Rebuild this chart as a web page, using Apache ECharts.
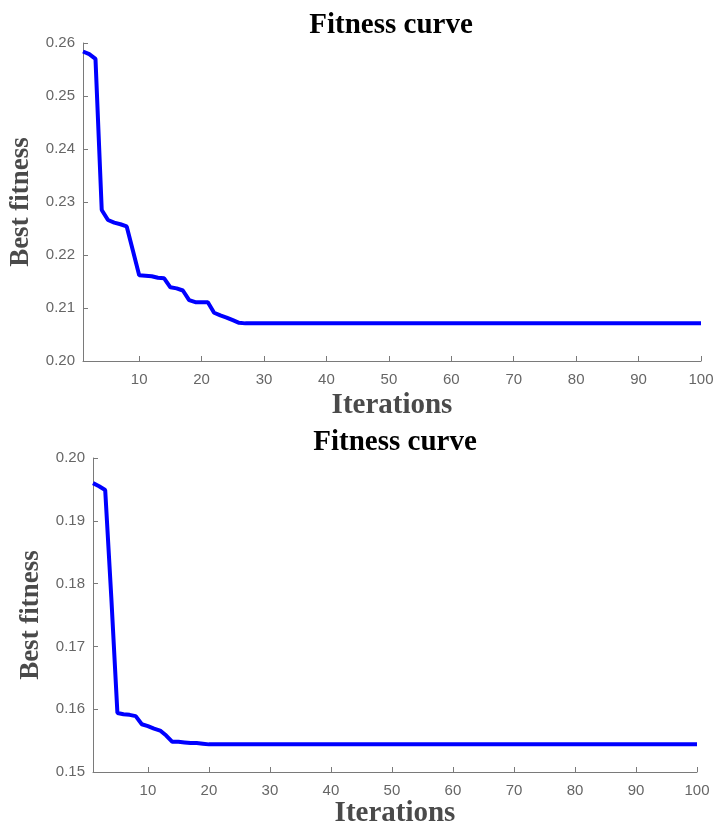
<!DOCTYPE html>
<html>
<head>
<meta charset="utf-8">
<script src="https://cdn.jsdelivr.net/npm/echarts@6/dist/echarts.min.js"></script>
<style>
html,body{margin:0;padding:0;background:#fff;}
#chart{width:713px;height:823px;}
</style>
</head>
<body>
<div id="chart"></div>
<script>
// Data
var titleText = 'Fitness curve';
var xName = 'Iterations';
var yName = 'Best fitness';
var xTickValues = [10, 20, 30, 40, 50, 60, 70, 80, 90, 100];

var fitnessTop = [
  0.2584, 0.2579, 0.2570, 0.2285, 0.2266, 0.2261, 0.2258, 0.2254, 0.2208, 0.2162,
  0.2161, 0.2160, 0.2157, 0.2156, 0.2139, 0.2137, 0.2133, 0.2115, 0.2111, 0.2111,
  0.2111, 0.2091, 0.2086, 0.2082, 0.2077, 0.2072, 0.2071, 0.2071, 0.2071, 0.2071,
  0.2071, 0.2071, 0.2071, 0.2071, 0.2071, 0.2071, 0.2071, 0.2071, 0.2071, 0.2071,
  0.2071, 0.2071, 0.2071, 0.2071, 0.2071, 0.2071, 0.2071, 0.2071, 0.2071, 0.2071,
  0.2071, 0.2071, 0.2071, 0.2071, 0.2071, 0.2071, 0.2071, 0.2071, 0.2071, 0.2071,
  0.2071, 0.2071, 0.2071, 0.2071, 0.2071, 0.2071, 0.2071, 0.2071, 0.2071, 0.2071,
  0.2071, 0.2071, 0.2071, 0.2071, 0.2071, 0.2071, 0.2071, 0.2071, 0.2071, 0.2071,
  0.2071, 0.2071, 0.2071, 0.2071, 0.2071, 0.2071, 0.2071, 0.2071, 0.2071, 0.2071,
  0.2071, 0.2071, 0.2071, 0.2071, 0.2071, 0.2071, 0.2071, 0.2071, 0.2071, 0.2071
];

var fitnessBottom = [
  0.1960, 0.1955, 0.1949, 0.1778, 0.1594, 0.1592, 0.1591, 0.1589, 0.1576, 0.1573,
  0.1569, 0.1566, 0.1558, 0.1548, 0.1548, 0.1547, 0.1546, 0.1546, 0.1545, 0.1544,
  0.1544, 0.1544, 0.1544, 0.1544, 0.1544, 0.1544, 0.1544, 0.1544, 0.1544, 0.1544,
  0.1544, 0.1544, 0.1544, 0.1544, 0.1544, 0.1544, 0.1544, 0.1544, 0.1544, 0.1544,
  0.1544, 0.1544, 0.1544, 0.1544, 0.1544, 0.1544, 0.1544, 0.1544, 0.1544, 0.1544,
  0.1544, 0.1544, 0.1544, 0.1544, 0.1544, 0.1544, 0.1544, 0.1544, 0.1544, 0.1544,
  0.1544, 0.1544, 0.1544, 0.1544, 0.1544, 0.1544, 0.1544, 0.1544, 0.1544, 0.1544,
  0.1544, 0.1544, 0.1544, 0.1544, 0.1544, 0.1544, 0.1544, 0.1544, 0.1544, 0.1544,
  0.1544, 0.1544, 0.1544, 0.1544, 0.1544, 0.1544, 0.1544, 0.1544, 0.1544, 0.1544,
  0.1544, 0.1544, 0.1544, 0.1544, 0.1544, 0.1544, 0.1544, 0.1544, 0.1544, 0.1544
];

function toPairs(vals) {
  return vals.map(function (v, i) { return [i + 1, v]; });
}

var serif = '"Liberation Serif", "Times New Roman", serif';
var sans = '"Liberation Sans", Arial, sans-serif';
var axisColor = '#7a7a7a';
var labelColor = '#666666';
var nameColor = '#4a4a4a';

function xAxisCfg(gridIndex, gap) {
  return {
    type: 'value', gridIndex: gridIndex, min: 1, max: 100,
    name: xName, nameLocation: 'middle', nameGap: gap,
    nameTextStyle: { fontFamily: serif, fontWeight: 'bold', fontSize: 29, color: nameColor },
    axisLine: { show: true, lineStyle: { color: axisColor, width: 1 } },
    axisTick: { show: true, inside: true, length: 5, customValues: xTickValues, lineStyle: { color: axisColor } },
    axisLabel: { customValues: xTickValues, fontFamily: sans, fontSize: 15, color: labelColor, margin: 11 },
    splitLine: { show: false }
  };
}
function yAxisCfg(gridIndex, min, max, gap) {
  return {
    type: 'value', gridIndex: gridIndex, min: min, max: max, interval: 0.01,
    name: yName, nameLocation: 'middle', nameGap: gap,
    nameTextStyle: { fontFamily: serif, fontWeight: 'bold', fontSize: 27, color: nameColor },
    axisLine: { show: true, lineStyle: { color: axisColor, width: 1 } },
    axisTick: { show: true, inside: true, length: 5, lineStyle: { color: axisColor } },
    axisLabel: { fontFamily: sans, fontSize: 15, color: labelColor, margin: 8,
      formatter: function (v) { return v.toFixed(2); } },
    splitLine: { show: false }
  };
}

var chart = echarts.init(document.getElementById('chart'), null, { renderer: 'canvas' });
chart.setOption({
  animation: false,
  backgroundColor: '#ffffff',
  title: [
    { text: titleText, left: 391, textAlign: 'center', top: 11, padding: 0,
      textStyle: { fontFamily: serif, fontWeight: 'bold', fontSize: 29, color: '#000' } },
    { text: titleText, left: 395, textAlign: 'center', top: 428, padding: 0,
      textStyle: { fontFamily: serif, fontWeight: 'bold', fontSize: 29, color: '#000' } }
  ],
  grid: [
    { left: 83, right: 12, top: 43, height: 318, containLabel: false, outerBoundsMode: 'none' },
    { left: 93, right: 16, top: 458, height: 314, containLabel: false, outerBoundsMode: 'none' }
  ],
  xAxis: [xAxisCfg(0, 30), xAxisCfg(1, 26)],
  yAxis: [yAxisCfg(0, 0.20, 0.26, 43), yAxisCfg(1, 0.15, 0.20, 45)],
  series: [
    { type: 'line', xAxisIndex: 0, yAxisIndex: 0, data: toPairs(fitnessTop),
      showSymbol: false, symbol: 'none', lineStyle: { color: '#0000ff', width: 4 } },
    { type: 'line', xAxisIndex: 1, yAxisIndex: 1, data: toPairs(fitnessBottom),
      showSymbol: false, symbol: 'none', lineStyle: { color: '#0000ff', width: 4 } }
  ]
});
</script>
</body>
</html>
